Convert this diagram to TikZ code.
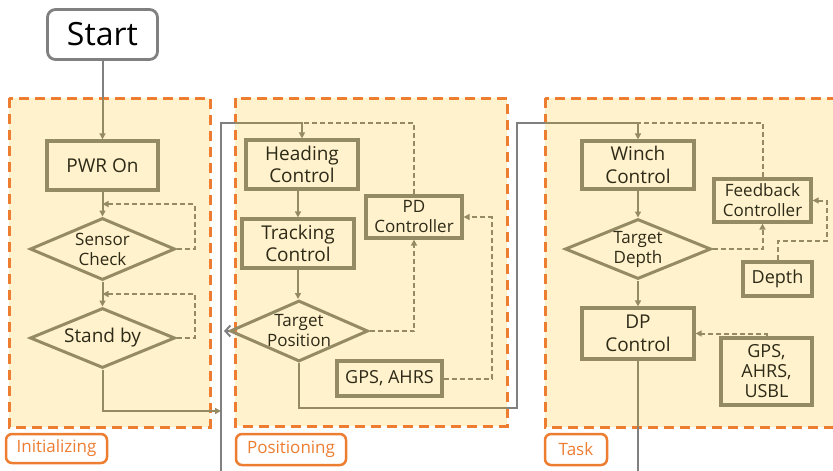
\documentclass[tikz,border=0pt]{standalone}
\usepackage{fontspec}
\setmainfont{Open Sans}
\usetikzlibrary{shapes.geometric,arrows.meta,calc}
\definecolor{tanc}{HTML}{948A64}
\definecolor{org}{HTML}{ED7D31}
\definecolor{grp}{HTML}{FFF2CC}
\definecolor{gln}{HTML}{808080}
\definecolor{txt}{HTML}{2E2A18}
\begin{document}
\begin{tikzpicture}[x=1pt,y=-1pt,
  fA/.style={font=\fontsize{19}{22.5}\selectfont},
  fB/.style={font=\fontsize{17}{20}\selectfont},
  fC/.style={font=\fontsize{18}{20}\selectfont},
  box/.style={draw=tanc, line width=3.2pt, inner sep=0pt, align=center, text=txt},
  dia/.style={diamond, draw=tanc, line width=3pt, inner sep=0pt},
  lab/.style={text=txt, align=center, inner sep=0pt},
  startbox/.style={draw=gln, line width=2.8pt, rounded corners=8pt, fill=white, inner sep=0pt, text=black, font=\fontsize{32}{36}\selectfont},
  grpbox/.style={fill=grp, draw=org, line width=3pt, dash pattern=on 10pt off 6pt},
  tag/.style={draw=org, fill=white, line width=2.5pt, rounded corners=6pt, text=org, inner sep=0pt, font=\fontsize{17}{20}\selectfont},
  tline/.style={draw=tanc, line width=2pt},
  con/.style={tline, -{Triangle[length=6pt,width=6pt]}},
  dline/.style={tline, dash pattern=on 5pt off 3pt},
  dcon/.style={con, dash pattern=on 5pt off 3pt},
  gline/.style={draw=gln, line width=2pt}]
\clip (0,0) rectangle (833,471);
% groups
\path[grpbox] (9,98) rectangle (210,427);
\path[grpbox] (235,98) rectangle (507,426);
\path[grpbox] (545,98) rectangle (850,427);
\node[tag, minimum width=101pt, minimum height=29pt] (tag1) at (56.5,448.5) {Initializing};
\node[tag, minimum width=110pt, minimum height=31pt] (tag2) at (291,449.5) {Positioning};
\node[tag, minimum width=62pt, minimum height=31pt] (tag3) at (576,449.5) {Task};
% nodes
\node[startbox, minimum width=110pt, minimum height=50pt] (start) at (102.5,34.5) {Start};
\node[box, fA, minimum width=111pt, minimum height=49pt] (pwr) at (102.5,165.5) {PWR On};
\node[dia, minimum width=145pt, minimum height=62pt, label={[lab,fB]center:Sensor\\Check}] (sensor) at (102.5,249) {};
\node[dia, minimum width=145pt, minimum height=60pt, label={[lab,fA]center:Stand by}] (standby) at (102.5,338) {};
\node[box, fA, minimum width=112pt, minimum height=49pt] (heading) at (302,164.5) {Heading\\Control};
\node[box, fA, minimum width=112pt, minimum height=49pt] (tracking) at (298,243.5) {Tracking\\Control};
\node[box, fB, minimum width=96pt, minimum height=42pt] (pd) at (414,217) {PD\\Controller};
\node[dia, minimum width=138pt, minimum height=61pt, label={[lab,fB]center:Target\\Position}] (target) at (299,331) {};
\node[box, fC, minimum width=105pt, minimum height=35pt] (gps1) at (389.5,378.5) {GPS, AHRS};
\node[box, fA, minimum width=112pt, minimum height=48pt] (winch) at (638,165) {Winch\\Control};
\node[box, fB, minimum width=97pt, minimum height=43pt] (fb) at (762.5,200.5) {Feedback\\Controller};
\node[dia, minimum width=146pt, minimum height=60pt, label={[lab,fB]center:Target\\Depth}] (depth) at (638,249) {};
\node[box, fC, minimum width=69pt, minimum height=34pt] (depthbox) at (777.5,279) {Depth};
\node[box, fA, minimum width=112pt, minimum height=51pt] (dp) at (638,333.5) {DP\\Control};
\node[box, fC, minimum width=91pt, minimum height=67pt] (gps2) at (766.5,371.5) {GPS,\\AHRS,\\USBL};
% coordinates
\coordinate (g1top) at (102.5,98);
\coordinate (busL) at (221,480);
\coordinate (topL) at (221,123);
\coordinate (g2in) at (235,123);
\coordinate (jA) at (221,411);
\coordinate (g2out) at (507,408);
\coordinate (midB) at (517,408);
\coordinate (midT) at (517,123);
\coordinate (g3in) at (545,123);
\coordinate (g3b) at (638,427);
\coordinate (endR) at (638,480);
% initializing
\draw[gline] (start.south) -- (g1top);
\draw[con] (g1top) -- (pwr.north);
\draw[con] (pwr.south) -- (sensor.north);
\draw[dcon] (sensor.east) -- ++(18,0) |- ($(pwr.south)!0.5!(sensor.north)$);
\draw[con] (sensor.south) -- (standby.north);
\draw[dcon] (standby.east) -- ++(18,0) |- ($(sensor.south)!0.5!(standby.north)$);
\draw[con] (standby.south) |- (jA);
% positioning
\draw[gline] (busL) -- (topL) -- (g2in);
\draw[con] (g2in) -| (heading.north);
\draw[dline] (pd.north) |- (heading.north |- topL);
\draw[con] (tracking.north |- heading.south) -- (tracking.north);
\draw[con] (tracking.south) -- (tracking.south |- target.north);
\draw[dcon] (target.east) -| (pd.south);
\draw[dcon] (gps1.east) -- ++(48,0) |- (pd.east);
\draw[gline, shorten >=3pt, -{Straight Barb[length=5pt,width=11pt]}] (target.west) -- (target.west -| busL);
\draw[tline] (target.south) |- (g2out);
\draw[gline] (g2out) -- (midB) -- (midT) -- (g3in);
% task
\draw[con] (g3in) -| (winch.north);
\draw[dline] (fb.north) |- (winch.north |- midT);
\draw[con] (winch.south) -- (depth.north);
\draw[dcon] (depth.east) -| (fb.south);
\draw[dcon] (depthbox.north) -- ++(0,-19) -- ++(49,0) |- (fb.east);
\draw[con] (depth.south) -- (dp.north);
\draw[dcon] (gps2.north) |- (dp.east);
\draw[tline] (dp.south) -- (g3b);
\draw[gline] (g3b) -- (endR);
\end{tikzpicture}
\end{document}
